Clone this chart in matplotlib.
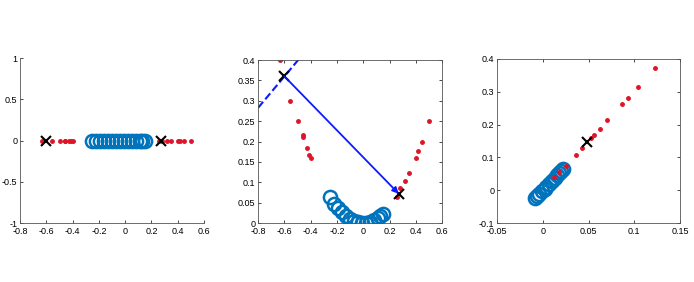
import numpy as np
import matplotlib
matplotlib.use('Agg')
import matplotlib.pyplot as plt

plt.rcParams['font.family'] = ['Liberation Sans', 'DejaVu Sans']
plt.rcParams['font.size'] = 6.5

# red points (outer samples) in the original plane
red_x = [-0.63, -0.56, -0.50, -0.46, -0.455, -0.43, -0.41, -0.40,
         0.26, 0.28, 0.32, 0.35, 0.40, 0.42, 0.45, 0.50]
red_y = [0.40, 0.30, 0.25, 0.217, 0.21, 0.185, 0.168, 0.16,
         0.064, 0.085, 0.103, 0.123, 0.16, 0.177, 0.20, 0.25]

# blue circles (inner samples)
blue_x = [-0.25, -0.22, -0.19, -0.16, -0.13, -0.10, -0.07, -0.04,
          -0.01, 0.02, 0.05, 0.08, 0.11, 0.13, 0.15]
blue_y = [0.063, 0.048, 0.036, 0.026, 0.017, 0.010, 0.005, 0.002,
          0.0, 0.0005, 0.0025, 0.0064, 0.012, 0.017, 0.023]

# cluster centres (black crosses)
cent_x = [-0.60, 0.27]
cent_y = [0.36, 0.072]

# projected data (third panel)
red3_x = [0.036, 0.043, 0.053, 0.056, 0.062, 0.070, 0.087, 0.093, 0.104, 0.123,
          0.025, 0.018, 0.012]
red3_y = [0.108, 0.128, 0.160, 0.168, 0.186, 0.213, 0.262, 0.282, 0.316, 0.373,
          0.075, 0.057, 0.040]
blue3_x = [-0.008, -0.006, -0.004, -0.001, 0.002, 0.004, 0.007, 0.010,
           0.013, 0.016, 0.018, 0.020, 0.022]
blue3_y = [-0.025, -0.018, -0.011, -0.003, 0.004, 0.010, 0.018, 0.027,
           0.036, 0.045, 0.052, 0.058, 0.065]
cent3_x = [0.048]
cent3_y = [0.147]

blue = (0.0, 0.45, 0.74)
red = (0.87, 0.08, 0.16)
lblue = (0.05, 0.1, 1.0)

fig = plt.figure(figsize=(6.94, 2.82), dpi=100)
ax1 = fig.add_axes([0.029, 0.209, 0.265, 0.585])
ax2 = fig.add_axes([0.372, 0.209, 0.265, 0.578])
ax3 = fig.add_axes([0.716, 0.209, 0.264, 0.582])

def style(ax, box=True):
    ax.tick_params(direction='in', length=2.5, width=0.5, top=box, right=box)
    ax.tick_params(axis='x', pad=3)
    ax.tick_params(axis='y', pad=2)
    for s in ax.spines.values():
        s.set_linewidth(0.6)
        s.set_color('#555555')
    if not box:
        ax.spines['top'].set_visible(False)
        ax.spines['right'].set_visible(False)

# panel 1: projection onto the x axis
ax1.plot(blue_x, np.zeros(len(blue_x)), 'o', ms=9.5, mfc='none', mec=blue, mew=1.8)
ax1.plot(red_x, np.zeros(len(red_x)), '.', color=red, ms=5)
ax1.plot(cent_x, [0, 0], 'x', color='k', ms=7, mew=1.5)
ax1.set_xlim(-0.8, 0.6)
ax1.set_ylim(-1, 1)
ax1.set_xticks([-0.8, -0.6, -0.4, -0.2, 0, 0.2, 0.4, 0.6])
ax1.set_xticklabels(['-0.8', '-0.6', '-0.4', '-0.2', '0', '0.2', '0.4', '0.6'])
ax1.set_yticks([-1, -0.5, 0, 0.5, 1])
ax1.set_yticklabels(['-1', '-0.5', '0', '0.5', '1'])
style(ax1, box=False)

# panel 2: original data with direction
ax2.plot(blue_x, blue_y, 'o', ms=9.5, mfc='none', mec=blue, mew=1.8)
ax2.plot(red_x, red_y, '.', color=red, ms=5)
ax2.plot([-0.8, -0.47], [0.283, 0.41], '--', color=lblue, lw=1.5)
ax2.annotate('', xy=(cent_x[1], cent_y[1]), xytext=(cent_x[0], cent_y[0]),
             arrowprops=dict(arrowstyle='-|>', color=lblue, lw=1.3,
                             mutation_scale=9, shrinkA=0, shrinkB=0))
ax2.plot(cent_x, cent_y, 'x', color='k', ms=7, mew=1.5)
ax2.set_xlim(-0.8, 0.6)
ax2.set_ylim(0, 0.4)
ax2.set_xticks([-0.8, -0.6, -0.4, -0.2, 0, 0.2, 0.4, 0.6])
ax2.set_xticklabels(['-0.8', '-0.6', '-0.4', '-0.2', '0', '0.2', '0.4', '0.6'])
ax2.set_yticks([0, 0.05, 0.1, 0.15, 0.2, 0.25, 0.3, 0.35, 0.4])
ax2.set_yticklabels(['0', '0.05', '0.1', '0.15', '0.2', '0.25', '0.3', '0.35', '0.4'])
style(ax2)

# panel 3: transformed data
ax3.plot(blue3_x, blue3_y, 'o', ms=9.5, mfc='none', mec=blue, mew=1.8)
ax3.plot(red3_x, red3_y, '.', color=red, ms=5)
ax3.plot(cent3_x, cent3_y, 'x', color='k', ms=7, mew=1.5)
ax3.set_xlim(-0.05, 0.15)
ax3.set_ylim(-0.1, 0.4)
ax3.set_xticks([-0.05, 0, 0.05, 0.1, 0.15])
ax3.set_xticklabels(['-0.05', '0', '0.05', '0.1', '0.15'])
ax3.set_yticks([-0.1, 0, 0.1, 0.2, 0.3, 0.4])
ax3.set_yticklabels(['-0.1', '0', '0.1', '0.2', '0.3', '0.4'])
style(ax3)

fig.savefig('out.png', dpi=100)
